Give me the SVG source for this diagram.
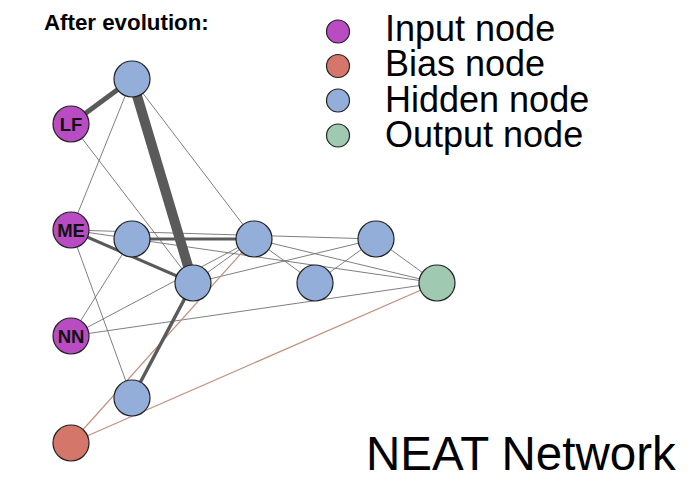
<svg xmlns="http://www.w3.org/2000/svg" width="695" height="501" viewBox="0 0 695 501">
<style>
.bg{fill:#ffffff}
.e{stroke:#707070;stroke-width:0.9;fill:none}
.w{stroke:#5a5a5a;fill:none}
.b{stroke:#c4907f;stroke-width:1.2;fill:none}
.n{stroke:#222222;stroke-width:1.2}
.in{fill:#b94bc3}
.bi{fill:#d5766b}
.hi{fill:#93aed9}
.ou{fill:#a0c9b2}
.lab{font-family:"Liberation Sans",Arial,sans-serif;font-weight:bold;font-size:18.5px;fill:#111111;text-anchor:middle}
.leg{font-family:"Liberation Sans",Arial,sans-serif;font-size:36px;fill:#000000}
</style>
<rect class="bg" x="0" y="0" width="695" height="501"/>
<text x="44" y="29.5" font-family="Liberation Sans, Arial, sans-serif" font-weight="bold" font-size="22.3" fill="#000">After evolution:</text>
<g id="connectors">
<line class="e" x1="132" y1="79" x2="71" y2="230"/>
<line class="e" x1="132" y1="79" x2="254" y2="239"/>
<line class="e" x1="71" y1="124" x2="193" y2="283"/>
<line class="e" x1="71" y1="230" x2="376" y2="239"/>
<line class="e" x1="71" y1="230" x2="437" y2="283"/>
<line class="e" x1="71" y1="230" x2="132" y2="398"/>
<line class="e" x1="71" y1="336" x2="132" y2="239"/>
<line class="e" x1="71" y1="336" x2="254" y2="239"/>
<line class="e" x1="71" y1="336" x2="437" y2="283"/>
<line class="e" x1="193" y1="283" x2="254" y2="239"/>
<line class="e" x1="193" y1="283" x2="376" y2="239"/>
<line class="e" x1="254" y1="239" x2="315" y2="283"/>
<line class="e" x1="254" y1="239" x2="437" y2="283"/>
<line class="e" x1="315" y1="283" x2="376" y2="239"/>
<line class="e" x1="376" y1="239" x2="437" y2="283"/>
<line class="b" x1="71" y1="443" x2="254" y2="239"/>
<line class="b" x1="71" y1="443" x2="437" y2="283"/>
<line class="w" stroke-width="2.8" x1="132" y1="239" x2="254" y2="239"/>
<line class="w" stroke-width="3" x1="71" y1="230" x2="193" y2="283"/>
<line class="w" stroke-width="3.5" x1="132" y1="398" x2="193" y2="283"/>
<line class="w" stroke-width="5" x1="71" y1="124" x2="132" y2="79"/>
<line class="w" stroke-width="10" x1="132" y1="79" x2="193" y2="283"/>
</g>
<g id="node-h1"><circle class="n hi" cx="132" cy="79" r="18"/></g>
<g id="node-lf"><circle class="n in" cx="71" cy="124" r="18"/><text class="lab" x="71" y="130.5">LF</text></g>
<g id="node-me"><circle class="n in" cx="71" cy="230" r="18"/><text class="lab" x="71" y="236.5">ME</text></g>
<g id="node-nn"><circle class="n in" cx="71" cy="336" r="18"/><text class="lab" x="71" y="342.5">NN</text></g>
<g id="node-bias"><circle class="n bi" cx="71" cy="443" r="18"/></g>
<g id="node-h2"><circle class="n hi" cx="132" cy="239" r="18"/></g>
<g id="node-h3"><circle class="n hi" cx="193" cy="283" r="18"/></g>
<g id="node-h4"><circle class="n hi" cx="254" cy="239" r="18"/></g>
<g id="node-h5"><circle class="n hi" cx="315" cy="283" r="18"/></g>
<g id="node-h6"><circle class="n hi" cx="376" cy="239" r="18"/></g>
<g id="node-h7"><circle class="n hi" cx="132" cy="398" r="18"/></g>
<g id="node-out"><circle class="n ou" cx="437" cy="283" r="18"/></g>
<g id="legend">
<circle class="n in" cx="338" cy="31.5" r="11.5"/>
<circle class="n bi" cx="338" cy="66" r="11.5"/>
<circle class="n hi" cx="338" cy="100.5" r="11.5"/>
<circle class="n ou" cx="338" cy="135.5" r="11.5"/>
<text class="leg" x="385" y="40.5">Input node</text>
<text class="leg" x="385" y="76">Bias node</text>
<text class="leg" x="385" y="111.5">Hidden node</text>
<text class="leg" x="385" y="147">Output node</text>
</g>
<text x="366" y="470" font-family="Liberation Sans, Arial, sans-serif" font-size="47.5" fill="#000">NEAT Network</text>
</svg>
